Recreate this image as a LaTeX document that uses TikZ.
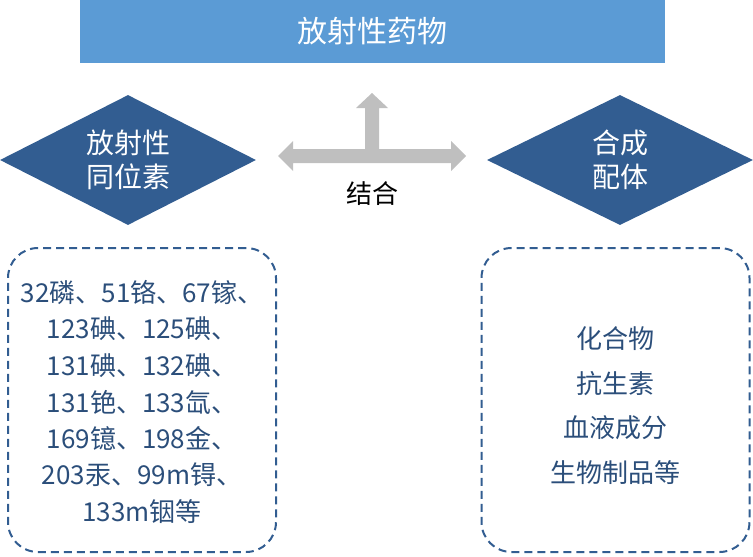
\documentclass[tikz,border=0pt]{standalone}
\usepackage{fontspec}
\setmainfont{Noto Sans CJK SC}
\usetikzlibrary{shapes.geometric, positioning}
\definecolor{titleblue}{HTML}{5B9BD5}
\definecolor{deepblue}{HTML}{325D91}
\definecolor{textblue}{HTML}{2B4E7A}
\definecolor{arrowgray}{HTML}{BFBFBF}
\tikzset{
  headbox/.style={fill=titleblue, text=white, minimum width=585pt, minimum height=63pt, font=\fontsize{30}{36}\selectfont},
  sidediamond/.style={diamond, fill=deepblue, text=white, aspect=2, minimum width=256pt, minimum height=128pt, inner sep=0pt, align=center, font=\fontsize{28}{34}\selectfont},
  listbox/.style={draw=deepblue, line width=2pt, dash pattern=on 8pt off 5pt, rounded corners=30pt, minimum width=268pt, minimum height=304pt},
  listline/.style={text=textblue, font=\fontsize{26}{30}\selectfont}
}
\begin{document}
\begin{tikzpicture}[x=1pt, y=-1pt]
    \useasboundingbox (0,0) rectangle (753,557);
    % title bar
    \node[headbox] (title) at (372.5,31.5) {放射性药物};

    % two sides
    \node[sidediamond, minimum height=130pt] (iso) at (128,160) {放射性\\同位素};
    \node[sidediamond, minimum width=266pt, minimum height=130pt] (lig) at (620,160) {合成\\配体};

    % joining arrow
    \fill[arrowgray] (293,149) -- (293,141) -- (278,156) -- (293,171) -- (293,163)
        -- (451,163) -- (451,171) -- (466,156) -- (451,141) -- (451,149)
        -- (379,149) -- (379,108) -- (388,108) -- (372,93) -- (356,108)
        -- (365,108) -- (365,149) -- cycle;
    \node[font=\fontsize{26}{30}\selectfont] (join) at (372,194) {结合};

    % lists
    \node[listbox] (isobox) at (142,400) {};
    \node[listbox] (ligbox) at (615.5,400) {};
    \foreach \t [count=\i] in {32磷、51铬、67镓、, 123碘、125碘、, 131碘、132碘、,
        131铯、133氙、, 169镱、198金、, 203汞、99m锝、, 133m铟等} {
        \node[listline] (iso\i) at (142,256+36.5*\i) {\t};
    }
    \foreach \t [count=\i] in {化合物, 抗生素, 血液成分, 生物制品等} {
        \node[listline] (lig\i) at (615,294+44.7*\i) {\t};
    }
\end{tikzpicture}
\end{document}
